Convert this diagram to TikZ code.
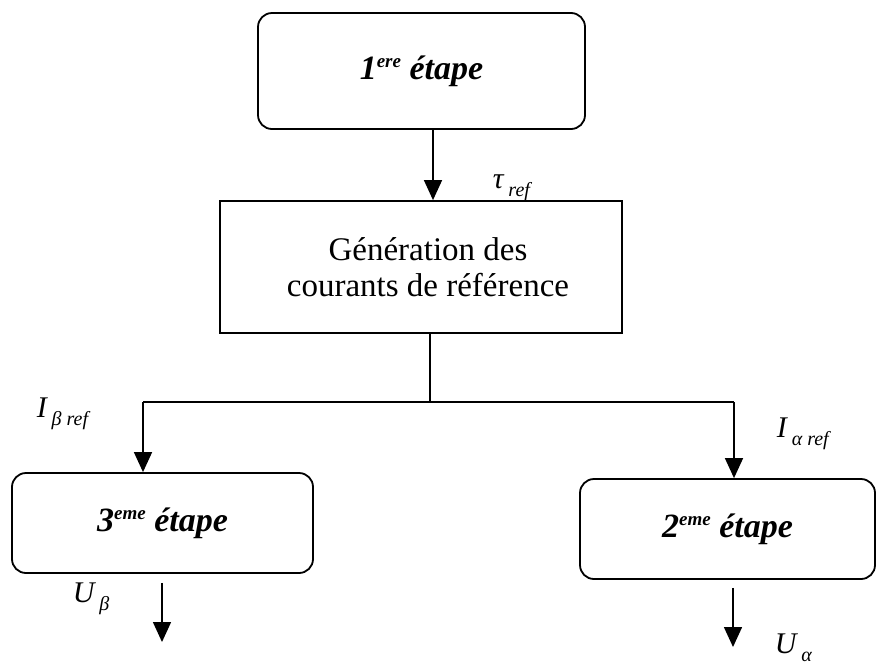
\documentclass[tikz,border=0pt]{standalone}
\usepackage{fontspec}
\setmainfont{Liberation Serif}
\usetikzlibrary{arrows.meta}
\newcommand\mysub[1]{\raisebox{-8pt}{\fontsize{20}{22}\selectfont #1}}
\newcommand\mysup[1]{\raisebox{12pt}{\fontsize{19}{20}\selectfont #1}}
\begin{document}
\begin{tikzpicture}[x=1pt,y=-1pt,
  line width=1.5pt,
  arr/.style={-{Triangle[width=18pt,length=20pt]}},
  rbox/.style={draw, rounded corners=14pt, line width=1.8pt, inner sep=0pt},
  sbox/.style={draw, line width=1.8pt, inner sep=0pt},
  boxtxt/.style={font=\fontsize{34}{40}\selectfont\bfseries\itshape},
  gentxt/.style={font=\fontsize{33}{36}\selectfont, align=center},
  lbl/.style={font=\fontsize{30}{36}\selectfont\itshape, inner sep=0pt, anchor=base west}
]
\useasboundingbox (0,0) rectangle (877,665);

% boxes
\node[rbox, minimum width=327pt, minimum height=116pt, boxtxt] (e1) at (421.5,71) {1\mysup{ere} étape};
\node[sbox, minimum width=402pt, minimum height=132pt, gentxt] (gen) at (421,267) {\hspace*{14pt}Génération des\\\hspace*{14pt}courants de référence};
\node[rbox, minimum width=301pt, minimum height=100pt, boxtxt] (e3) at (162.5,523) {3\mysup{eme} étape};
\node[rbox, minimum width=295pt, minimum height=100pt, boxtxt] (e2) at (727.5,529) {2\mysup{eme} étape};

% connectors
\draw[arr] ([xshift=11.5pt]e1.south) -- ([xshift=11.5pt]e1.south |- gen.north);
\coordinate (jl) at (143,402);
\coordinate (jr) at (734,402);
\coordinate (jm) at (430,402);
\draw (gen.south -| jm) -- (jm);
\draw (jl) -- (jr);
\draw[arr] (jl) -- (jl |- e3.north);
\draw[arr] (jr) -- (jr |- e2.north);
\coordinate (ub) at (162,642);
\coordinate (ua) at (733,647);
\draw[arr] ([yshift=-9pt]e3.south -| ub) -- (ub);
\draw[arr] ([yshift=-8pt]e2.south -| ua) -- (ua);

% labels
\node[lbl] (ltau) at (492,188) {τ\,\mysub{ref}};
\node[lbl] (lib) at (36,417) {I\,\mysub{β ref}};
\node[lbl] (lia) at (776,437) {I\,\mysub{α ref}};
\node[lbl] (lub) at (72,602) {U\,\mysub{β}};
\node[lbl] (lua) at (774,653) {U\,\mysub{α}};
\end{tikzpicture}
\end{document}
